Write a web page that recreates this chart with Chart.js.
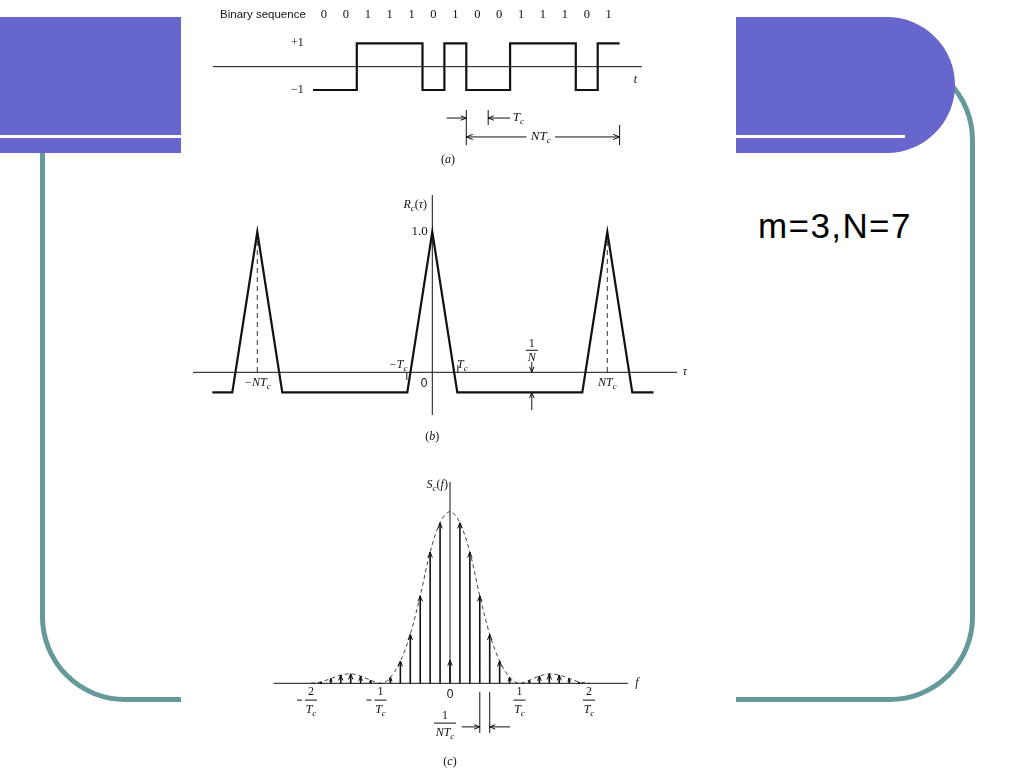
<!DOCTYPE html>
<html><head><meta charset="utf-8">
<script src="https://cdn.jsdelivr.net/npm/chart.js@4/dist/chart.umd.min.js"></script>
<style>
html,body{margin:0;padding:0;background:#fff;width:1024px;height:768px;overflow:hidden;position:relative;font-family:"Liberation Sans",Arial,sans-serif}
.abs{position:absolute}
#frame{left:40px;top:55px;width:935px;height:647px;border:5px solid #669999;border-radius:85px;box-sizing:border-box}
#band{left:0;top:17px;width:955px;height:136px;background:#6666CC;border-radius:0 68px 68px 0}
#stripe{left:0;top:135px;width:905px;height:3px;background:#fff}
#panel{left:181px;top:0;width:555px;height:768px;background:#fff}
#note{left:758px;top:208px;font-size:35px;line-height:35px;letter-spacing:1.4px;color:#000;white-space:nowrap}
</style></head><body>
<div id="frame" class="abs"></div>
<div id="band" class="abs"></div>
<div id="stripe" class="abs"></div>
<div id="panel" class="abs"></div>
<canvas id="ca" class="abs" style="left:181px;top:0" width="555" height="175"></canvas>
<canvas id="cb" class="abs" style="left:181px;top:175px" width="555" height="275"></canvas>
<canvas id="cc" class="abs" style="left:181px;top:450px" width="555" height="318"></canvas>
<div id="note" class="abs">m=3,N=7</div>
<script>
// ---------------- DATA ----------------
const N = 7;
const binarySequence = [0,0,1,1,1,0,1,0,0,1,1,1,0,1];
const chipLevel = [-1,-1,1,1,1,-1,1,-1,-1,1,1,1,-1,1];          // +1 / -1 waveform
const autocorrTau = [-8.8,-8,-7,-6,-1,0,1,6,7,8,8.85];             // in units of Tc
const autocorrR   = [-0.143,-0.143,1,-0.143,-0.143,1,-0.143,-0.143,1,-0.143,-0.143];
const sidePeakTau = [-7,7];                                          // ±N Tc
const lineOrder  = [-13,-12,-11,-10,-9,-8,-6,-5,-4,-3,-2,-1,0,1,2,3,4,5,6,8,9,10,11,12,13];
const lineHeight = [0.008,0.028,0.048,0.055,0.042,0.018,0.035,0.13,0.285,0.51,0.765,0.935,0.135,
                    0.935,0.765,0.51,0.285,0.13,0.035,0.018,0.042,0.055,0.048,0.028,0.008];
const envOrder = [-14,-13,-12,-11,-10,-9,-8,-7,-6,-5,-4,-3,-2,-1,0,1,2,3,4,5,6,7,8,9,10,11,12,13,14];
const envValue = [0,0.008,0.028,0.048,0.055,0.042,0.018,0,0.035,0.13,0.285,0.51,0.765,0.935,1.0,
                  0.935,0.765,0.51,0.285,0.13,0.035,0,0.018,0.042,0.055,0.048,0.028,0.008,0];
const freqTicks = [-2,-1,1,2];
const freqTickNum = ['2','1','1','2'];

// ---------------- helpers ----------------
const SERIF = '"Liberation Serif","DejaVu Serif",serif';
const SANS = '"Liberation Sans",Arial,sans-serif';
const INK = '#111';
function xr(aPx, aVal, ppu, left, width){ return {min: aVal-(aPx-left)/ppu, max: aVal+(left+width-aPx)/ppu}; }
function yr(aPx, aVal, ppu, top, height){ return {max: aVal+(aPx-top)/ppu, min: aVal-(top+height-aPx)/ppu}; }
function baseOpts(x, y){
  return {responsive:false, maintainAspectRatio:false, animation:false, devicePixelRatio:1, events:[],
    layout:{padding:0},
    plugins:{legend:{display:false}, tooltip:{enabled:false}},
    elements:{point:{radius:0}, line:{tension:0}},
    scales:{x:{type:'linear',display:false,min:x.min,max:x.max}, y:{type:'linear',display:false,min:y.min,max:y.max}}};
}
function seg(ctx,x1,y1,x2,y2,w){ ctx.beginPath(); ctx.lineWidth=w||1; ctx.moveTo(x1,y1); ctx.lineTo(x2,y2); ctx.stroke(); }
function head(ctx,x,y,dx,dy,s){
  const a=Math.atan2(dy,dx), sp=0.38;
  ctx.beginPath(); ctx.lineWidth=1;
  ctx.moveTo(x-s*Math.cos(a-sp), y-s*Math.sin(a-sp)); ctx.lineTo(x,y);
  ctx.lineTo(x-s*Math.cos(a+sp), y-s*Math.sin(a+sp)); ctx.stroke();
}
function arrow(ctx,x1,y1,x2,y2,s){ seg(ctx,x1,y1,x2,y2,1); head(ctx,x2,y2,x2-x1,y2-y1,s||6); }
function rich(ctx, parts, x, y, align, size){
  const fonts = parts.map(p => p[1]==='i' ? `italic ${size}px ${SERIF}` : p[1]==='s' ? `italic ${Math.round(size*0.72)}px ${SERIF}` : p[1]==='n' ? `${size}px ${SANS}` : `${size}px ${SERIF}`);
  let w=0; const ws=parts.map((p,i)=>{ctx.font=fonts[i]; const m=ctx.measureText(p[0]).width; w+=m; return m;});
  let cx = align==='center' ? x-w/2 : align==='right' ? x-w : x;
  ctx.textAlign='left'; ctx.textBaseline='middle';
  parts.forEach((p,i)=>{ ctx.font=fonts[i]; ctx.fillText(p[0], cx, p[1]==='s' ? y+size*0.3 : y); cx+=ws[i]; });
  return w;
}
function XY(ch){ const s=ch.scales; return [v=>s.x.getPixelForValue(v), v=>s.y.getPixelForValue(v)]; }

// ---------------- Chart (a) ----------------
const wavePts = chipLevel.map((v,i)=>({x:i,y:v})).concat([{x:chipLevel.length, y:chipLevel[chipLevel.length-1]}]);
const decorA = {id:'decorA', afterDraw(ch){
  const ctx=ch.ctx, [X,Y]=XY(ch); ctx.save(); ctx.strokeStyle=INK; ctx.fillStyle=INK;
  seg(ctx,X(-4.57),Y(0),X(15.02),Y(0),1);
  rich(ctx,[['t','i']],X(14.72),Y(-0.57),'center',12);
  rich(ctx,[['+1','r']],X(-0.42),Y(1),'right',12);
  rich(ctx,[['\u22121','r']],X(-0.42),Y(-1),'right',12);
  ctx.font=`11.5px ${SANS}`; ctx.textAlign='right'; ctx.textBaseline='middle';
  ctx.fillText('Binary sequence', X(-0.33), Y(2.21));
  ctx.font=`12.5px ${SERIF}`; ctx.textAlign='center';
  binarySequence.forEach((b,i)=>ctx.fillText(String(b), X(i+0.5), Y(2.21)));
  seg(ctx,X(7),Y(-1.86),X(7),Y(-3.36),1);
  seg(ctx,X(8),Y(-1.86),X(8),Y(-2.5),1);
  arrow(ctx,X(6.1),Y(-2.2),X(7),Y(-2.2),6);
  arrow(ctx,X(9.0),Y(-2.2),X(8),Y(-2.2),6);
  rich(ctx,[['T','i'],['c','s']],X(9.12),Y(-2.2),'left',13);
  seg(ctx,X(14),Y(-2.5),X(14),Y(-3.36),1);
  arrow(ctx,X(9.75),Y(-3.01),X(7),Y(-3.01),7);
  arrow(ctx,X(11.05),Y(-3.01),X(14),Y(-3.01),7);
  rich(ctx,[['NT','i'],['c','s']],X(10.4),Y(-3.01),'center',13);
  rich(ctx,[['(','r'],['a','i'],[')','r']],X(6.16),Y(-4.0),'center',12);
  ctx.restore();
}};
new Chart(document.getElementById('ca'), {
  type:'line',
  data:{datasets:[{data:wavePts, borderColor:INK, borderWidth:2.2, stepped:true, fill:false, pointRadius:0}]},
  options: baseOpts(xr(313,0,21.9,181,555), yr(66.67,0,23.35,0,175)),
  plugins:[decorA]
});

// ---------------- Chart (b) ----------------
const acPts = autocorrTau.map((t,i)=>({x:t, y:autocorrR[i]}));
const dashPts = [];
sidePeakTau.forEach(t=>{ dashPts.push({x:t,y:1},{x:t,y:0},{x:t,y:null}); });
const decorB = {id:'decorB', afterDraw(ch){
  const ctx=ch.ctx, [X,Y]=XY(ch); ctx.save(); ctx.strokeStyle=INK; ctx.fillStyle=INK;
  seg(ctx,X(-9.57),Y(0),X(9.79),Y(0),1);
  seg(ctx,X(0),Y(1.264),X(0),Y(-0.304),1);
  rich(ctx,[['\u03C4','i']],X(10.1),Y(0),'center',12);
  rich(ctx,[['R','i'],['c','s'],['(','r'],['\u03C4','i'],[')','r']],X(-0.68),Y(1.19),'center',12);
  rich(ctx,[['1.0','r']],X(-0.18),Y(1.0),'right',13);
  rich(ctx,[['\u2212NT','i'],['c','s']],X(-7),Y(-0.078),'center',12);
  rich(ctx,[['NT','i'],['c','s']],X(7),Y(-0.078),'center',12);
  rich(ctx,[['0','n']],X(-0.33),Y(-0.078),'center',12);
  rich(ctx,[['\u2212T','i'],['c','s']],X(-1.37),Y(0.055),'center',12);
  rich(ctx,[['T','i'],['c','s']],X(1.2),Y(0.055),'center',12);
  seg(ctx,X(-1.02),Y(0.0),X(-1.02),Y(-0.055),1);
  seg(ctx,X(1.02),Y(0.05),X(1.02),Y(0),1);
  rich(ctx,[['1','r']],X(3.98),Y(0.2),'center',12);
  seg(ctx,X(3.98)-6,Y(0.157),X(3.98)+6,Y(0.157),1);
  rich(ctx,[['N','i']],X(3.98),Y(0.1),'center',12);
  arrow(ctx,X(3.98),Y(0.075),X(3.98),Y(0),6);
  arrow(ctx,X(3.98),Y(-0.27),X(3.98),Y(-0.143),6);
  rich(ctx,[['(','r'],['b','i'],[')','r']],X(0),Y(-0.461),'center',12);
  ctx.restore();
}};
new Chart(document.getElementById('cb'), {
  type:'line',
  data:{datasets:[
    {data:acPts, borderColor:INK, borderWidth:2.2, borderJoinStyle:'miter', fill:false, pointRadius:0},
    {data:dashPts, borderColor:'#333', borderWidth:1, borderDash:[5,4], fill:false, pointRadius:0, spanGaps:false}
  ]},
  options: baseOpts(xr(432.3,0,25,181,555), yr(372.3,0,140.3,175,275)),
  plugins:[decorB]
});

// ---------------- Chart (c) ----------------
const stemPts = [];
lineOrder.forEach((n,i)=>{ stemPts.push({x:n/N,y:0},{x:n/N,y:lineHeight[i]},{x:n/N,y:null}); });
const envPts = envOrder.map((n,i)=>({x:n/N, y:envValue[i]}));
const decorC = {id:'decorC', afterDraw(ch){
  const ctx=ch.ctx, [X,Y]=XY(ch); ctx.save(); ctx.strokeStyle=INK; ctx.fillStyle=INK;
  seg(ctx,X(-2.54),Y(0),X(2.56),Y(0),1);
  seg(ctx,X(0),Y(1.173),X(0),Y(0),1);
  rich(ctx,[['f','i']],X(2.69),Y(0),'center',12);
  rich(ctx,[['S','i'],['c','s'],['(','r'],['f','i'],[')','r']],X(-0.03),Y(1.156),'right',12);
  rich(ctx,[['0','n']],X(0),Y(-0.068),'center',12);
  freqTicks.forEach((v,i)=>{
    rich(ctx,[[freqTickNum[i],'r']],X(v),Y(-0.05),'center',12);
    seg(ctx,X(v)-6,Y(-0.098),X(v)+6,Y(-0.098),1);
    rich(ctx,[['T','i'],['c','s']],X(v),Y(-0.155),'center',12);
    if(v<0) seg(ctx,X(v)-14,Y(-0.098),X(v)-9,Y(-0.098),1);
  });
  rich(ctx,[['1','r']],X(-0.072),Y(-0.19),'center',12);
  seg(ctx,X(-0.072)-11,Y(-0.232),X(-0.072)+11,Y(-0.232),1);
  rich(ctx,[['NT','i'],['c','s']],X(-0.072),Y(-0.287),'center',12);
  seg(ctx,X(3/N),Y(-0.05),X(3/N),Y(-0.289),1);
  seg(ctx,X(4/N),Y(-0.05),X(4/N),Y(-0.289),1);
  arrow(ctx,X(0.17),Y(-0.254),X(3/N),Y(-0.254),6);
  arrow(ctx,X(0.865),Y(-0.254),X(4/N),Y(-0.254),6);
  rich(ctx,[['(','r'],['c','i'],[')','r']],X(0),Y(-0.4586),'center',12);
  lineOrder.forEach((n,i)=>{
    const x=X(n/N), y=Y(lineHeight[i]), len=Y(0)-y;
    head(ctx,x,y,0,-1,Math.min(6,Math.max(2.5,len*0.7)));
  });
  ctx.restore();
}};
new Chart(document.getElementById('cc'), {
  type:'line',
  data:{datasets:[
    {data:stemPts, borderColor:INK, borderWidth:1.6, fill:false, pointRadius:0, spanGaps:false},
    {data:envPts, borderColor:'#444', borderWidth:1, borderDash:[4,3], cubicInterpolationMode:'monotone', fill:false, pointRadius:0}
  ]},
  options: baseOpts(xr(450,0,69.5,181,555), yr(683.3,0,171.6,450,318)),
  plugins:[decorC]
});
</script>
</body></html>
